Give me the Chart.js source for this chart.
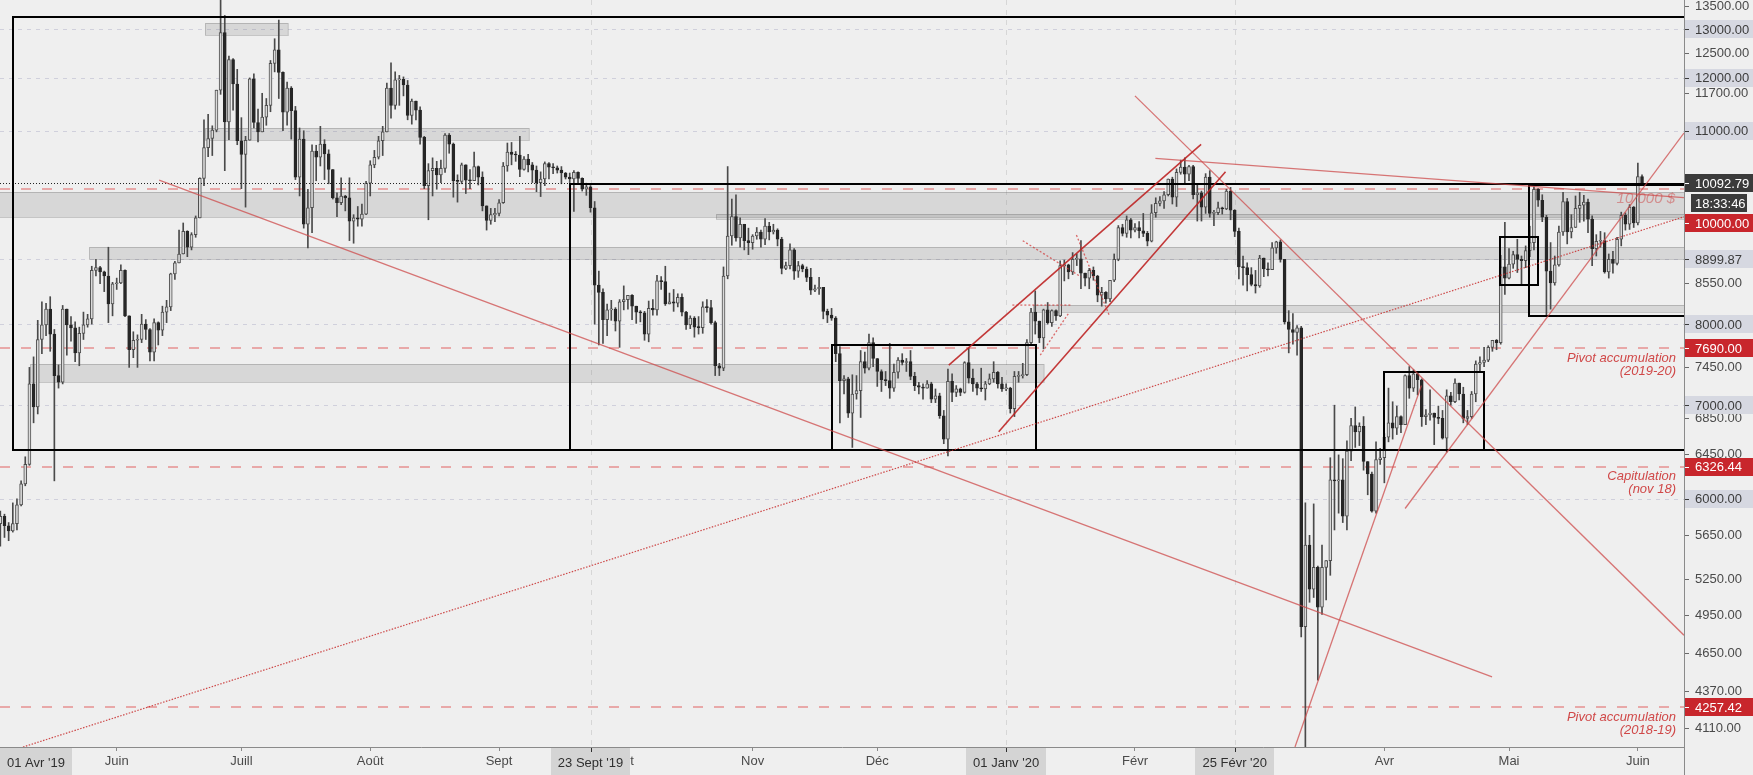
<!DOCTYPE html>
<html><head><meta charset="utf-8">
<script src="https://cdn.jsdelivr.net/npm/chart.js@4.4.1/dist/chart.umd.min.js"></script>
<style>html,body{margin:0;padding:0;background:#efefef;overflow:hidden}canvas{display:block}</style>
</head><body>
<canvas id="c" width="1753" height="775"></canvas>
<script>
// ---------- DATA (daily candles [open, high, low, close]) ----------
const FIRST_CANDLE = '2019-05-04';
const may2019 = [[5760,5880,5550,5830],[5830,5850,5630,5740],[5740,5770,5600,5690],[5690,5960,5680,5760],[5760,6000,5700,5940],[5940,6180,5930,6150],[6150,6430,6130,6350],[6350,7450,6340,7250],[7250,7580,6800,6980],[6980,8050,6900,7800],[7800,8300,7620,7990],[7990,8280,7850,8200],[8200,8370,7650,7870],[7870,7930,6180,7350],[7350,7480,7200,7270],[7270,8250,7250,8200],[8200,8200,7600,7990],[7990,8100,7780,7950],[7950,8030,7520,7630],[7630,7960,7470,7880],[7880,8160,7800,7990],[7990,8130,7960,8070],[8070,8800,8000,8740],[8740,8900,8660,8780],[8780,8800,8550,8720],[8720,8730,8440,8660],[8660,9080,8020,8270],[8270,8570,8110,8550]];
const jun2019 = [[8550,8630,8470,8560],[8560,8820,8550,8740],[8740,8750,8100,8110],[8110,8110,7450,7670],[7670,7900,7570,7790],[7790,7860,7450,7800],[7800,8130,7760,8000],[8000,8060,7800,7930],[7930,7940,7530,7640],[7640,8070,7530,8020],[8020,8030,7730,7920],[7920,8240,7850,8160],[8160,8320,8020,8230],[8230,8700,8180,8690],[8690,8870,8610,8850],[8850,9340,8850,8980],[8980,9450,8980,9320],[9320,9330,8940,9080],[9080,9300,9040,9270],[9270,9560,9230,9530],[9530,10180,9530,10170],[10170,11200,10050,10700],[10700,11300,10540,10860],[10860,11090,10560,11010],[11010,11760,10980,11760],[11760,13880,11680,12930],[12930,13300,10300,11160],[11160,12440,10840,12370],[12370,12390,11380,11880],[11880,12170,10750,10820]];
const jul2019 = [[10820,11240,10000,10580],[10580,10900,9700,10830],[10830,12000,10830,11980],[11980,12080,11050,11150],[11150,11400,10800,10980],[10980,11700,10980,11250],[11250,11600,11100,11470],[11470,12350,11350,12290],[12290,12800,12120,12570],[12570,13200,11600,12110],[12110,12120,11000,11340],[11340,11920,11100,11800],[11800,11830,10850,11370],[11370,11450,10150,10190],[10190,11050,9880,10850],[10850,11000,9370,9430],[9430,9990,9070,9690],[9690,10750,9300,10640],[10640,10740,10130,10530],[10530,11080,10380,10760],[10760,10840,10150,10590],[10590,10660,10080,10320],[10320,10320,9830,9850],[9850,9930,9550,9770],[9770,10180,9740,9880],[9880,9890,9640,9850],[9850,10180,9180,9480],[9480,9580,9140,9530],[9530,9710,9400,9510],[9510,9750,9400,9590],[9590,10120,9580,10090]];
const aug2019 = [[10090,10470,9880,10400],[10400,10650,10350,10530],[10530,10900,10500,10820],[10820,11080,10560,10980],[10980,11900,10980,11800],[11800,12300,11230,11470],[11470,12120,11400,11960],[11960,12050,11470,11970],[11970,12020,11650,11860],[11860,11950,11200,11280],[11280,11590,11120,11550],[11550,11550,11200,11380],[11380,11440,10760,10880],[10880,10900,10000,10050],[10050,10420,9500,10300],[10300,10520,9880,10340],[10340,10460,9990,10230],[10230,10480,10100,10340],[10340,10950,10270,10920],[10920,10950,10600,10760],[10760,10780,9860,10130],[10130,10230,9780,10120],[10120,10430,10080,10400],[10400,10400,9920,10140],[10140,10320,10000,10130],[10130,10620,10130,10370],[10370,10380,10060,10190],[10190,10280,9640,9720],[9720,9720,9340,9490],[9490,9680,9430,9580],[9580,9680,9470,9600]];
const sep2019 = [[9600,9820,9560,9770],[9770,10440,9760,10380],[10380,10780,10290,10620],[10620,10790,10400,10580],[10580,10630,10460,10570],[10570,10900,10200,10320],[10320,10540,10310,10500],[10500,10580,10280,10400],[10400,10440,10100,10310],[10310,10380,9950,10100],[10100,10280,9870,10160],[10160,10450,10050,10420],[10420,10440,10160,10360],[10360,10420,10250,10350],[10350,10380,10260,10310],[10310,10370,10080,10260],[10260,10270,10160,10190],[10190,10260,10100,10160],[10160,10300,9630,10270],[10270,10280,10080,10170],[10170,10180,9960,9990],[9990,10090,9890,10030],[10030,10050,9620,9690],[9690,9790,8000,8530],[8530,8730,7730,8430],[8430,8480,7750,8060],[8060,8270,7850,8190],[8190,8320,8050,8200],[8200,8220,7910,8040],[8040,8330,7700,8300]];
const oct2019 = [[8300,8520,8190,8330],[8330,8390,8200,8390],[8390,8400,8060,8240],[8240,8240,8010,8160],[8160,8180,8030,8150],[8150,8170,7790,7870],[7870,8310,7770,8210],[8210,8330,8120,8190],[8190,8670,8120,8590],[8590,8650,8470,8580],[8580,8800,8250,8270],[8270,8420,8270,8300],[8300,8470,8170,8280],[8280,8410,8230,8360],[8360,8410,8110,8160],[8160,8170,7930,7990],[7990,8110,7940,8080],[8080,8100,7830,7960],[7960,8100,7870,7955],[7955,8300,7880,8230],[8230,8330,8160,8220],[8220,8320,8000,8020],[8020,8040,7350,7470],[7470,7500,7350,7440],[7440,8790,7410,8660],[8660,10370,8620,9250],[9250,9830,9110,9550],[9550,9900,9170,9220],[9220,9530,9080,9430],[9430,9430,9040,9180],[9180,9370,8970,9150]];
const nov2019 = [[9150,9270,9050,9250],[9250,9380,9200,9310],[9310,9340,9080,9200],[9200,9520,9120,9400],[9400,9460,9190,9310],[9310,9430,9280,9340],[9340,9360,9100,9200],[9200,9230,8690,8770],[8770,8860,8750,8810],[8810,9130,8760,9040],[9040,9060,8610,8730],[8730,8870,8640,8810],[8810,8830,8720,8760],[8760,8790,8580,8640],[8640,8770,8400,8460],[8460,8530,8440,8480],[8480,8640,8400,8500],[8500,8500,8070,8170],[8170,8200,8020,8120],[8120,8210,8050,8080],[8080,8100,7520,7620],[7620,7710,6800,7290],[7290,7350,7130,7310],[7310,7330,6860,6910],[6910,7360,6530,7130],[7130,7350,7070,7170],[7170,7660,6860,7520],[7520,7640,7380,7440],[7440,7870,7420,7760],[7760,7820,7460,7560]];
const dec2019 = [[7560,7560,7220,7400],[7400,7420,7160,7300],[7300,7400,7230,7290],[7290,7750,7080,7200],[7200,7490,7160,7390],[7390,7570,7320,7540],[7540,7620,7480,7510],[7510,7560,7400,7520],[7520,7660,7300,7340],[7340,7390,7170,7230],[7230,7270,7130,7210],[7210,7250,7070,7200],[7200,7290,7200,7250],[7250,7270,7030,7070],[7070,7190,7030,7110],[7110,7140,6850,6880],[6880,6940,6570,6620],[6620,7430,6440,7280],[7280,7370,7040,7150],[7150,7230,7100,7190],[7190,7200,7110,7150],[7150,7520,7140,7510],[7510,7690,7260,7320],[7320,7430,7160,7250],[7250,7270,7120,7200],[7200,7440,7160,7190],[7190,7280,7060,7250],[7250,7370,7240,7310],[7310,7520,7270,7390],[7390,7400,7200,7250],[7250,7330,7160,7190]];
const jan2020 = [[7190,7250,7170,7200],[7200,7210,6910,6960],[6960,7400,6870,7340],[7340,7400,7270,7350],[7350,7500,7320,7360],[7360,7800,7350,7760],[7760,8210,7740,8160],[8160,8450,7870,8040],[8040,8040,7760,7820],[7820,8200,7680,8190],[8190,8290,8000,8020],[8020,8190,7970,8180],[8180,8190,8050,8110],[8110,8880,8100,8810],[8810,8890,8590,8820],[8820,8830,8620,8720],[8720,9000,8680,8900],[8900,8980,8810,8910],[8910,9180,8480,8700],[8700,8700,8520,8630],[8630,8770,8480,8740],[8740,8790,8600,8660],[8660,8670,8300,8390],[8390,8500,8240,8430],[8430,8440,8280,8340],[8340,8600,8300,8600],[8600,8980,8580,8900],[8900,9410,8880,9380],[9380,9430,9250,9290],[9290,9560,9230,9500],[9500,9520,9220,9340]];
const feb2020 = [[9340,9440,9310,9380],[9380,9470,9220,9330],[9330,9600,9240,9290],[9290,9320,9100,9170],[9170,9740,9160,9610],[9610,9850,9540,9760],[9760,9870,9720,9800],[9800,9950,9680,9900],[9900,10160,9880,10160],[10160,10190,9750,9860],[9860,10330,9710,10270],[10270,10480,10240,10360],[10360,10520,10100,10240],[10240,10390,10130,10370],[10370,10390,9830,9900],[9900,10060,9480,9930],[9930,9960,9480,9700],[9700,10250,9600,10190],[10190,10300,9540,9600],[9600,9650,9410,9610],[9610,9780,9580,9690],[9690,9700,9590,9670],[9670,9990,9660,9960],[9960,10020,9500,9650],[9650,9660,9240,9320],[9320,9370,8620,8790],[8790,8950,8530,8780],[8780,8850,8450,8680],[8680,8780,8520,8540]];
const mar2020 = [[8540,8740,8420,8520],[8520,8960,8500,8920],[8920,8920,8650,8760],[8760,8850,8660,8750],[8750,9150,8750,9070],[9070,9170,8990,9160],[9160,9190,8860,8900],[8900,8900,8000,8030],[8030,8180,7630,7930],[7930,8140,7740,7890],[7890,7980,7600,7950],[7950,7970,4780,4860],[4860,5960,3850,5560],[5560,5650,5060,5170],[5170,5950,5100,5360],[5360,5370,4450,5020],[5020,5560,4960,5360],[5360,5420,5080,5420],[5420,6420,5290,6190],[6190,7000,5700,6180],[6180,6450,5860,6190],[6190,6410,5770,5830],[5830,6600,5700,6490],[6490,6850,6390,6770],[6770,6980,6530,6700],[6700,6800,6550,6760],[6760,6870,6290,6380],[6380,6380,6040,6250],[6250,6270,5870,5880],[5880,6590,5860,6400],[6400,6520,6350,6420]];
const apr2020 = [[6420,6680,6160,6640],[6640,7200,6590,6800],[6800,7040,6620,6740],[6740,6990,6670,6870],[6870,6880,6690,6780],[6780,7360,6780,7350],[7350,7460,7080,7200],[7200,7420,7160,7370],[7370,7380,7120,7300],[7300,7310,6760,6870],[6870,6950,6780,6890],[6890,7180,6830,6910],[6910,6910,6560,6860],[6860,6990,6790,6850],[6850,6940,6620,6630],[6630,7180,6480,7110],[7110,7150,7000,7040],[7040,7310,7030,7260],[7260,7260,7060,7130],[7130,7210,6800,6850],[6850,6940,6780,6870],[6870,7160,6850,7130],[7130,7530,7040,7490],[7490,7580,7410,7510],[7510,7700,7460,7540],[7540,7720,7520,7700],[7700,7790,7650,7790],[7790,7800,7670,7760],[7760,8960,7740,8790],[8790,9460,8400,8630]];
const may2020 = [[8630,9060,8620,8830],[8830,9020,8770,8970],[8970,9200,8710,8900],[8900,8950,8550,8880],[8880,9100,8780,9030],[9030,9400,8940,9150],[9150,10030,9040,9990],[9990,10000,9710,9810],[9810,9900,9470,9540],[9540,9570,8120,8730],[8730,9150,8200,8560],[8560,8950,8530,8820],[8820,9400,8800,9310],[9310,9940,9260,9790],[9790,9840,9130,9310],[9310,9580,9220,9380],[9380,9880,9380,9680],[9680,9940,9460,9730],[9730,9890,9480,9780],[9780,9830,9300,9510],[9510,9560,8810,9060],[9060,9270,8950,9170],[9170,9320,9080,9180],[9180,9300,8700,8720],[8720,8980,8630,8900],[8900,9020,8700,8840],[8840,9230,8820,9200],[9200,9620,9100,9570],[9570,9610,9340,9430],[9430,9740,9350,9700],[9700,9710,9380,9450]];
const jun2020 = [[9450,10430,9420,10200],[10200,10230,10080,10092.79]];

// time axis: month ticks and labels (French)
const monthTicks = ['2019-06-01','2019-07-01','2019-08-01','2019-09-01','2019-10-01','2019-11-01','2019-12-01','2020-01-01','2020-02-01','2020-03-01','2020-04-01','2020-05-01','2020-06-01'];
const monthLabels = ['Juin','Juill','Août','Sept','Oct','Nov','Déc','2020','Févr','Mars','Avr','Mai','Juin'];
const VIEW_START = '2019-05-03T22:05', VIEW_END = '2020-06-12T02:25';
const markedDates = ['2019-04-01','2019-09-23','2020-01-01','2020-02-25'];
const markedDateLabels = ["01 Avr '19","23 Sept '19","01 Janv '20","25 Févr '20"];

// price axis
const PRICE_MIN = 3987, PRICE_MAX = 13643;
const priceTicks = [13500,12500,11700,8550,7450,6850,6450,5650,5250,4950,4650,4370,4110];
const grayLevels = [13000,12000,11000,8899.87,8000,7000,6000];
const redLevels = [10000,7690,6326.44,4257.42];
const LAST_PRICE = 10092.79, COUNTDOWN = '18:33:46';
const levelNotes = [[10000,['10 000 $']],[7690,['Pivot accumulation','(2019-20)']],[6326.44,['Capitulation','(nov 18)']],[4257.42,['Pivot accumulation','(2018-19)']]];

// drawings in (date, price)
const grayZones = [
  ['2019-06-22T07:00','2019-07-12T05:00',13142,12872],
  ['2019-06-22T07:00','2019-09-08T05:00',11044,10833],
  ['2019-04-01T00:00','2020-07-01T00:00',9944,9542],
  ['2019-10-23T07:00','2020-07-01T00:00',9585,9511],
  ['2019-05-25T10:00','2020-07-01T00:00',9090,8899.87],
  ['2019-05-11T05:00','2020-01-10T02:00',7489,7272],
  ['2020-01-07T12:00','2020-07-01T00:00',8255,8156]
];
const blackBoxes = [
  ['2019-05-07T02:00','2020-07-01T00:00',13260,6500],
  ['2019-09-18T02:00','2020-07-01T00:00',10070,6500],
  ['2019-11-20T05:00','2020-01-08T05:00',7729,6500],
  ['2020-03-31T22:00','2020-04-25T00:00',7396,6500],
  ['2020-04-28T22:00','2020-05-08T02:00',9229,8527],
  ['2020-05-05T19:00','2020-07-01T00:00',10060,8111]
];
const trendLines = [
  [['2019-06-11T05:00',10140],['2020-04-26T22:00',4475]],
  [['2020-02-01T00:00',11650],['2020-06-12T02:00',4793]],
  [['2020-02-05T22:00',10511],['2020-06-12T02:00',9854]],
  [['2020-03-10T12:00',3987],['2020-04-09T22:00',7230]],
  [['2020-04-06T00:00',5905],['2020-06-12T02:00',10959]]
];
const channelLines = [
  [['2019-12-18T05:00',7478],['2020-02-16T22:00',10756]],
  [['2019-12-30T05:00',6700],['2020-02-22T19:00',10282]]
];
const dottedLines = [
  [['2019-05-09T11:00',3987],['2020-06-12T02:00',9547]]
];
const shortDottedLines = [
  [['2020-01-05T00:00',9178],['2020-01-19T00:00',8648]],
  [['2020-01-02T12:00',8255],['2020-01-16T14:00',8255]],
  [['2020-01-09T05:00',7601],['2020-01-16T00:00',8142]],
  [['2020-01-17T22:00',9264],['2020-01-25T19:00',8120]]
];

// ---------- helpers ----------
const DAY = 86400000, ORIGIN = Date.UTC(2019,5,1);
function dayOf(s){ const t = s.length===10 ? s+'T00:00:00Z' : s+':00Z'; return (Date.parse(t)-ORIGIN)/DAY; }
const FONT = '"Liberation Sans", Arial, sans-serif';
const BG = '#efefef';

const ohlc = [].concat(may2019,jun2019,jul2019,aug2019,sep2019,oct2019,nov2019,dec2019,jan2020,feb2020,mar2020,apr2020,may2020,jun2020);
const x0 = dayOf(FIRST_CANDLE);
const candles = ohlc.map((k,i)=>({x:x0+i,o:k[0],h:k[1],l:k[2],c:k[3]}));
const UP_FILL='#dadada', UP_EDGE='#4e4e4e', DOWN='#262626', WICK='#4a4a4a';

const drawings = {
  id:'drawings',
  beforeDraw(chart){ const c=chart.ctx; c.save(); c.fillStyle=BG; c.fillRect(0,0,chart.width,chart.height); c.restore(); },
  beforeDatasetsDraw(chart){
    const c=chart.ctx, a=chart.chartArea, X=d=>chart.scales.x.getPixelForValue(dayOf(d)), Y=p=>chart.scales.y.getPixelForValue(p);
    c.save(); c.beginPath(); c.rect(a.left,a.top,a.right-a.left,a.bottom-a.top); c.clip();
    c.strokeStyle='#d6d6d6'; c.lineWidth=1; c.setLineDash([5,5]);
    markedDates.forEach(d=>{ const x=Math.round(X(d))+0.5; c.beginPath(); c.moveTo(x,a.top); c.lineTo(x,a.bottom); c.stroke(); });
    c.strokeStyle='#d0d0dc'; c.setLineDash([4,5]);
    grayLevels.forEach(p=>{ const y=Math.round(Y(p))+0.5; c.beginPath(); c.moveTo(a.left,y); c.lineTo(a.right,y); c.stroke(); });
    c.setLineDash([]);
    grayZones.forEach(z=>{ const x1=X(z[0]),x2=X(z[1]),y1=Math.round(Y(z[2])),y2=Math.round(Y(z[3]));
      c.fillStyle='rgba(120,120,120,0.2)'; c.fillRect(x1,y1,x2-x1,y2-y1);
      c.strokeStyle='rgba(100,100,100,0.3)'; c.lineWidth=1; c.strokeRect(Math.round(x1)+0.5,y1+0.5,x2-x1,y2-y1); });
    c.strokeStyle='rgba(226,120,120,0.6)'; c.lineWidth=2; c.setLineDash([10,11]);
    redLevels.forEach(p=>{ const y=Math.round(Y(p)); c.beginPath(); c.moveTo(a.left,y); c.lineTo(a.right,y); c.stroke(); });
    c.restore();
  },
  afterDatasetsDraw(chart){
    const c=chart.ctx, a=chart.chartArea, X=d=>chart.scales.x.getPixelForValue(dayOf(d)), Y=p=>chart.scales.y.getPixelForValue(p);
    c.save(); c.beginPath(); c.rect(a.left,a.top,a.right-a.left,a.bottom-a.top); c.clip();
    c.strokeStyle='#222'; c.lineWidth=1; c.setLineDash([1,2]);
    let yl=Math.round(Y(LAST_PRICE))+0.5; c.beginPath(); c.moveTo(a.left,yl); c.lineTo(a.right,yl); c.stroke();
    c.setLineDash([]);
    c.strokeStyle='#000'; c.lineWidth=2;
    blackBoxes.forEach(b=>{ const x1=Math.round(X(b[0])),x2=Math.round(X(b[1])),y1=Math.round(Y(b[2])),y2=Math.round(Y(b[3])); c.strokeRect(x1,y1,x2-x1,y2-y1); });
    const seg=(l)=>{ c.beginPath(); c.moveTo(X(l[0][0]),Y(l[0][1])); c.lineTo(X(l[1][0]),Y(l[1][1])); c.stroke(); };
    c.strokeStyle='rgba(205,75,75,0.75)'; c.lineWidth=1.3; trendLines.forEach(seg);
    c.strokeStyle='rgba(190,35,35,0.9)'; c.lineWidth=1.6; channelLines.forEach(seg);
    c.strokeStyle='rgba(200,45,45,0.85)'; c.lineWidth=1.2; c.setLineDash([1.5,1.5]); dottedLines.forEach(seg);
    c.strokeStyle='rgba(210,60,60,0.75)'; c.lineWidth=1.3; c.setLineDash([2,2]); shortDottedLines.forEach(seg); c.setLineDash([]);
    c.textAlign='right'; c.textBaseline='middle';
    levelNotes.forEach(n=>{ const y=Y(n[0]);
      if(n[1].length===1){ c.font='italic 15px '+FONT; c.fillStyle='rgba(205,70,70,0.5)'; c.fillText(n[1][0],a.right-9,y+10); }
      else { c.font='italic 13px '+FONT; c.fillStyle='#d04848'; n[1].forEach((t,i)=>c.fillText(t,a.right-8,y+10+i*13)); } });
    c.restore();
  },
  afterDraw(chart){
    const c=chart.ctx, a=chart.chartArea, X=d=>chart.scales.x.getPixelForValue(dayOf(d)), Y=p=>chart.scales.y.getPixelForValue(p);
    c.save();
    c.strokeStyle='#8a8a8a'; c.lineWidth=1; c.beginPath(); c.moveTo(a.right+0.5,a.bottom); c.lineTo(a.right+0.5,chart.height); c.stroke();
    c.font='13px '+FONT; c.textAlign='left'; c.textBaseline='middle';
    const H=18, placed=[];
    const box=(y,text,bg,fg,inset)=>{ let yy=y;
      let moved=true; while(moved){ moved=false; for(const p of placed){ if(Math.abs(yy-p)<H+1){ yy=p+H+2; moved=true; } } }
      placed.push(yy);
      c.fillStyle=bg; c.fillRect(a.right+1+(inset||0),Math.round(yy-H/2),chart.width-a.right-1-2*(inset||0),H);
      c.fillStyle=fg; if(!inset) c.fillRect(a.right+1,Math.round(yy),4,1);
      c.fillText(text,a.right+11,yy+1); };
    grayLevels.forEach(p=>box(Y(p),p.toFixed(2),'#d6d8e1','#3c3c3c'));
    placed.length=0;
    box(Y(LAST_PRICE),LAST_PRICE.toFixed(2),'#3b3b3b','#ffffff');
    box(Y(LAST_PRICE)+H+2,COUNTDOWN,'#3b3b3b','#ffffff',6);
    redLevels.forEach(p=>box(Y(p),p.toFixed(2),'#c8262c','#ffffff'));
    c.textAlign='center';
    markedDates.forEach((d,i)=>{ const t=markedDateLabels[i]; const w=c.measureText(t).width+14;
      let cx=X(d); if(cx-w/2<0) cx=w/2;
      c.fillStyle='#d4d4d4'; c.fillRect(Math.round(cx-w/2),a.bottom+1,Math.round(w),chart.height-a.bottom-1);
      c.fillStyle='#2f2f2f'; c.fillText(t,cx,a.bottom+16);
      if(X(d)>=0){ c.fillRect(Math.round(X(d)),a.bottom+1,1,4); } });
    c.restore();
  }
};

new Chart(document.getElementById('c'),{
  type:'bar',
  data:{datasets:[
    {label:'corps',data:candles.map(k=>({x:k.x,y:[k.o,k.c]})),
     backgroundColor:candles.map(k=>k.c>=k.o?UP_FILL:DOWN),borderColor:candles.map(k=>k.c>=k.o?UP_EDGE:DOWN),
     borderWidth:1,borderSkipped:false,barThickness:3,minBarLength:1,grouped:false,order:0},
    {label:'mèches',data:candles.map(k=>({x:k.x,y:[k.l,k.h]})),backgroundColor:WICK,borderWidth:0,barThickness:1,grouped:false,order:1}
  ]},
  options:{
    responsive:false,animation:false,devicePixelRatio:1,events:[],layout:{padding:0},
    plugins:{legend:{display:false},tooltip:{enabled:false}},
    scales:{
      x:{type:'linear',min:dayOf(VIEW_START),max:dayOf(VIEW_END),offset:false,
        grid:{drawOnChartArea:false,drawTicks:true,tickLength:4,color:'#8a8a8a',offset:false},
        border:{display:true,color:'#8a8a8a'},
        ticks:{autoSkip:false,maxRotation:0,minRotation:0,padding:3,color:'#4a4a4a',font:{family:FONT,size:13},
          callback:(v,i)=>monthLabels[i]},
        afterBuildTicks:s=>{ s.ticks=monthTicks.map(d=>({value:dayOf(d)})); },
        afterFit:s=>{ s.height=28; s.paddingLeft=0; s.paddingRight=0; }},
      y:{type:'logarithmic',position:'right',min:PRICE_MIN,max:PRICE_MAX,
        grid:{drawOnChartArea:false,drawTicks:true,tickLength:5,color:'#6a6a6a'},
        border:{display:true,color:'#8a8a8a'},
        ticks:{autoSkip:false,padding:6,color:'#4a4a4a',font:{family:FONT,size:13},callback:v=>Number(v).toFixed(2)},
        afterBuildTicks:s=>{ s.ticks=priceTicks.map(v=>({value:v})); },
        afterFit:s=>{ s.width=69; s.paddingTop=0; s.paddingBottom=0; }}
    }
  },
  plugins:[drawings]
});
</script>
</body></html>
